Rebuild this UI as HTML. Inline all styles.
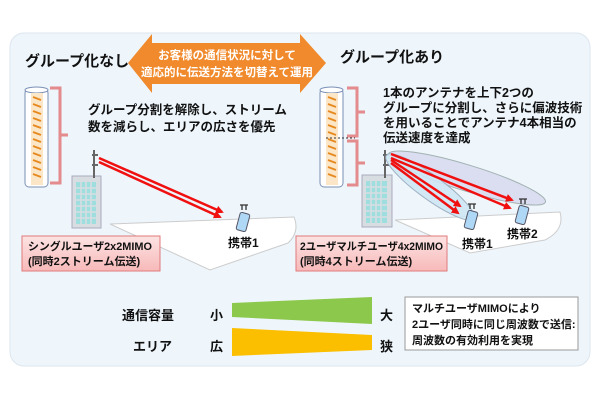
<!DOCTYPE html>
<html><head><meta charset="utf-8"><style>
body{margin:0;background:#fff;}
svg{display:block;font-family:"Liberation Sans","Noto Sans CJK JP",sans-serif;font-weight:bold;}
</style></head><body>
<svg width="600" height="400" viewBox="0 0 600 400">
<defs>
<marker id="ah" markerWidth="8" markerHeight="8" refX="6" refY="4" orient="auto" markerUnits="userSpaceOnUse"><path d="M0,0 L8,4 L0,8 Z" fill="#f01010"/></marker>
<linearGradient id="pk" x1="0" y1="0" x2="0" y2="1"><stop offset="0" stop-color="#fde3e3"/><stop offset="1" stop-color="#f7b9b9"/></linearGradient>
</defs>
<rect x="10" y="33" width="580" height="333" rx="14" fill="#eef6fc" stroke="#dde6ee"/>
<path d="M128,63 L152,34 L152,43 L300,43 L300,34 L326,63 L300,93 L300,84 L152,84 L152,93 Z" fill="#f08a2c"/>
<text x="227" y="59" fill="#fff" font-size="11.5" text-anchor="middle">お客様の通信状況に対して</text>
<text x="227" y="76" fill="#fff" font-size="11.5" text-anchor="middle">適応的に伝送方法を切替えて運用</text>
<text x="25" y="66" font-size="15" fill="#111">グループ化なし</text>
<text x="340" y="62" font-size="15" fill="#111">グループ化あり</text>
<g>
<rect x="25" y="89" width="23" height="98" rx="4" fill="#fff" stroke="#7a8fb5"/>
<ellipse cx="36.5" cy="90" rx="11.5" ry="3" fill="#fff" stroke="#7a8fb5"/>
<rect x="31" y="93" width="12" height="92" fill="#fbe6c8"/>
<path d="M33,97 l8,3 M33,104 l8,3 M33,111 l8,3 M33,118 l8,3 M33,125 l8,3 M33,132 l8,3 M33,139 l8,3 M33,146 l8,3 M33,153 l8,3 M33,160 l8,3 M33,167 l8,3 M33,174 l8,3" stroke="#e68a20" stroke-width="2"/>
<path d="M50,88 L60,88 L60,135 L68,135 M60,135 L60,183 L50,183" fill="none" stroke="#e07070" stroke-width="3" opacity="0.8"/>
</g>
<text x="88" y="114" font-size="12.5" fill="#111">グループ分割を解除し、ストリーム</text>
<text x="88" y="131" font-size="12.5" fill="#111">数を減らし、エリアの広さを優先</text>
<path d="M110,224 L294,217 Q300,232 288,243 L210,270 Z" fill="#fff" stroke="#ccc"/>
<rect x="72" y="176" width="29" height="52" fill="#d8dde2" stroke="#aab"/>
<rect x="76" y="182" width="20" height="42" fill="#9fdede"/>
<path d="M76,188h20M76,194h20M76,200h20M76,206h20M76,212h20M76,218h20M81,182v42M86,182v42M91,182v42" stroke="#d8dde2" stroke-width="1.5"/>
<path d="M94,150v28 M92,155h6M92,165h6" stroke="#666" stroke-width="2"/>
<line x1="99" y1="158" x2="222" y2="212" stroke="#f01010" stroke-width="2.5" marker-end="url(#ah)"/>
<line x1="99" y1="162" x2="220" y2="217" stroke="#f01010" stroke-width="2.5" marker-end="url(#ah)"/>
<rect x="238" y="213" width="10" height="18" rx="2" fill="#aed8f5" stroke="#556" transform="rotate(15 243 222)"/>
<path d="M242,210v-5M246,210v-5M240,205h8" stroke="#333" stroke-width="1.3"/>
<text x="228" y="247" font-size="12" fill="#111">携帯1</text>
<rect x="22" y="236" width="138" height="35" fill="url(#pk)" stroke="#e07a7a"/>
<text x="28" y="250" font-size="11" fill="#111" textLength="124" lengthAdjust="spacingAndGlyphs">シングルユーザ2x2MIMO</text>
<text x="28" y="265" font-size="11" fill="#111">(同時2ストリーム伝送)</text>
<g>
<rect x="320" y="89" width="23" height="98" rx="4" fill="#fff" stroke="#7a8fb5"/>
<ellipse cx="331.5" cy="90" rx="11.5" ry="3" fill="#fff" stroke="#7a8fb5"/>
<rect x="326" y="93" width="12" height="92" fill="#fbe6c8"/>
<path d="M328,97 l8,3 M328,104 l8,3 M328,111 l8,3 M328,118 l8,3 M328,125 l8,3 M328,132 l8,3 M328,139 l8,3 M328,146 l8,3 M328,153 l8,3 M328,160 l8,3 M328,167 l8,3 M328,174 l8,3" stroke="#e68a20" stroke-width="2"/>
<line x1="326" y1="138" x2="355" y2="138" stroke="#333" stroke-dasharray="2,2"/>
<path d="M347,88 L357,88 L357,112 L365,112 M357,112 L357,136 L347,136 M347,141 L357,141 L357,163 L365,163 M357,163 L357,185 L347,185" fill="none" stroke="#e07070" stroke-width="3" opacity="0.8"/>
</g>
<text x="383" y="97" font-size="12.5" fill="#111">1本のアンテナを上下2つの</text>
<text x="383" y="112" font-size="12.5" fill="#111">グループに分割し、さらに偏波技術</text>
<text x="383" y="127" font-size="12.5" fill="#111">を用いることでアンテナ4本相当の</text>
<text x="383" y="142" font-size="12.5" fill="#111">伝送速度を達成</text>
<path d="M395,220 L560,212 Q565,230 545,240 L470,253 Z" fill="#fff" stroke="#ccc"/>
<rect x="362" y="175" width="30" height="52" fill="#d8dde2" stroke="#aab"/>
<rect x="366" y="181" width="21" height="42" fill="#9fdede"/>
<path d="M366,187h21M366,193h21M366,199h21M366,205h21M366,211h21M366,217h21M371,181v42M376,181v42M381,181v42" stroke="#d8dde2" stroke-width="1.5"/>
<path d="M385,150v28 M383,155h6M383,165h6" stroke="#666" stroke-width="2"/>
<ellipse cx="467" cy="178" rx="82" ry="13" transform="rotate(17 467 178)" fill="#d9dcef" stroke="#9aa" opacity="0.9"/>
<ellipse cx="430" cy="187" rx="54" ry="12" transform="rotate(36 430 187)" fill="#cfe8f5" stroke="#9ab" opacity="0.9"/>
<line x1="391" y1="154" x2="512" y2="200" stroke="#f01010" stroke-width="2.5" marker-end="url(#ah)"/>
<line x1="391" y1="158" x2="510" y2="208" stroke="#f01010" stroke-width="2.5" marker-end="url(#ah)"/>
<line x1="391" y1="160" x2="460" y2="206" stroke="#f01010" stroke-width="2.5" marker-end="url(#ah)"/>
<line x1="391" y1="163" x2="458" y2="213" stroke="#f01010" stroke-width="2.5" marker-end="url(#ah)"/>
<rect x="466" y="211" width="10" height="18" rx="2" fill="#aed8f5" stroke="#556" transform="rotate(15 471 220)"/>
<path d="M470,209v-5M474,209v-5M468,204h8" stroke="#333" stroke-width="1.3"/>
<rect x="517" y="206" width="10" height="18" rx="2" fill="#aed8f5" stroke="#556" transform="rotate(15 522 215)"/>
<path d="M521,204v-5M525,204v-5M519,199h8" stroke="#333" stroke-width="1.3"/>
<text x="462" y="248" font-size="12" fill="#111">携帯1</text>
<text x="507" y="238" font-size="12" fill="#111">携帯2</text>
<rect x="296" y="236" width="151" height="35" fill="url(#pk)" stroke="#e07a7a"/>
<text x="300" y="250" font-size="11" fill="#111" textLength="143" lengthAdjust="spacingAndGlyphs">2ユーザマルチユーザ4x2MIMO</text>
<text x="300" y="265" font-size="11" fill="#111">(同時4ストリーム伝送)</text>
<text x="122" y="320" font-size="13" fill="#111">通信容量</text>
<text x="133" y="351" font-size="13" fill="#111">エリア</text>
<text x="210" y="320" font-size="13" fill="#111">小</text>
<text x="210" y="351" font-size="13" fill="#111">広</text>
<text x="380" y="320" font-size="13" fill="#111">大</text>
<text x="380" y="351" font-size="13" fill="#111">狭</text>
<polygon points="232,303 372,297 372,324 232,317" fill="#8cc84b"/>
<polygon points="232,328 372,335 372,350 232,356" fill="#fbbf00"/>
<rect x="405" y="297" width="173" height="53" fill="#fff" stroke="#999"/>
<text x="412" y="312" font-size="11" fill="#111">マルチユーザMIMOにより</text>
<text x="412" y="328" font-size="11" fill="#111">2ユーザ同時に同じ周波数で送信:</text>
<text x="412" y="344" font-size="11" fill="#111">周波数の有効利用を実現</text>
</svg>
</body></html>
